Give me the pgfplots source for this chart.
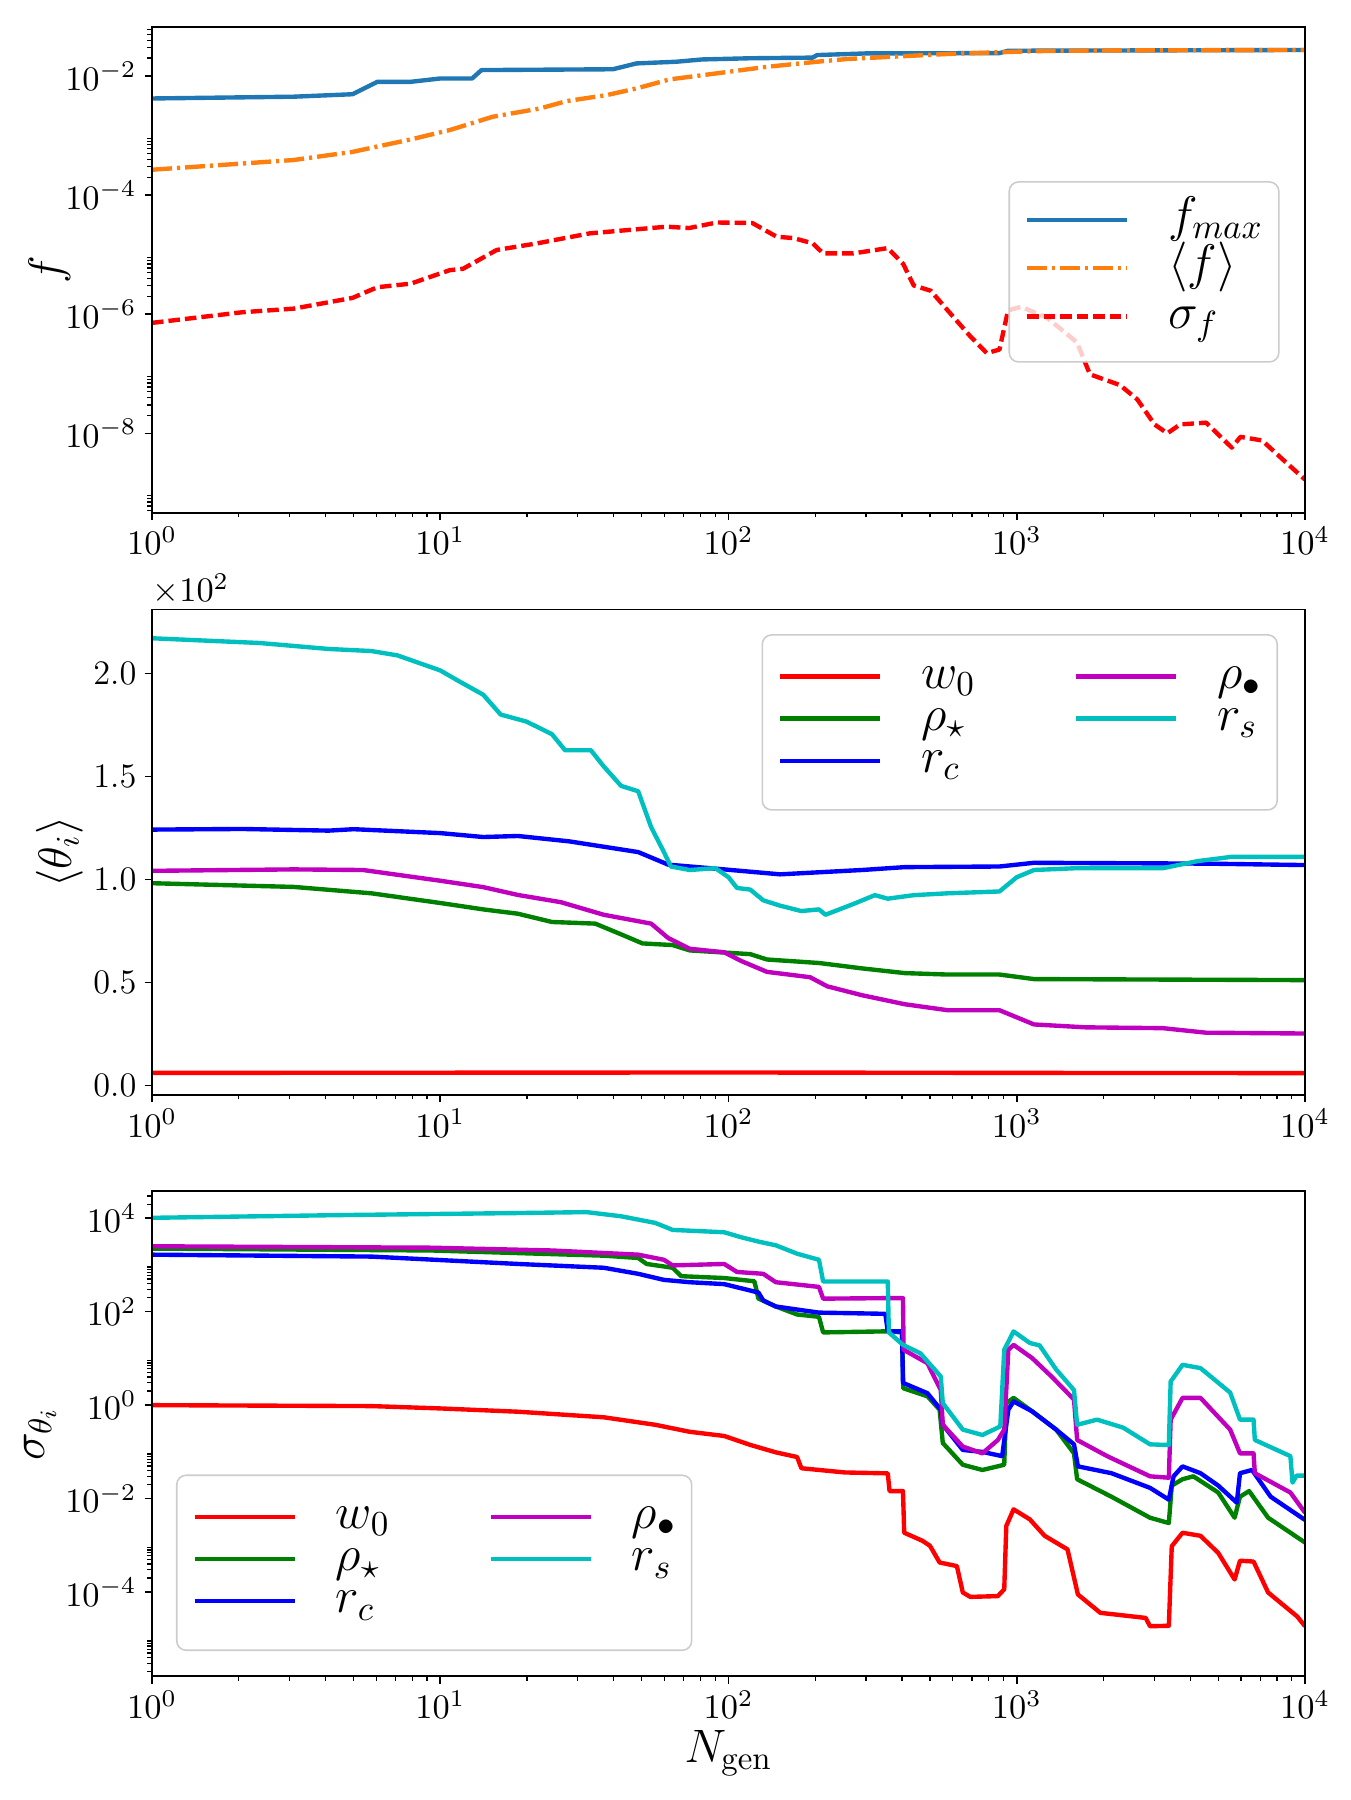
\RequirePackage{fix-cm}
\documentclass[border=0pt]{standalone}
\usepackage{pgfplots}
\pgfplotsset{compat=1.18}

\definecolor{mplblue}{HTML}{1F77B4}
\definecolor{mplorange}{HTML}{FF7F0E}
\definecolor{cR}{rgb}{1,0,0}
\definecolor{cG}{rgb}{0,0.5,0}
\definecolor{cB}{rgb}{0,0,1}
\definecolor{cM}{rgb}{0.75,0,0.75}
\definecolor{cC}{rgb}{0,0.75,0.75}

% settings shared by the three panels
\pgfplotsset{
  legend image code/.code={\draw[#1] (0pt,1.2pt) -- (32pt,1.2pt);},
  every axis plot/.append style={line width=1.4pt, line join=round},
  scale only axis, width=368.96pt, height=155.3pt,
  tick pos=left, tick align=outside,
  major tick length=2.4pt, minor tick length=1.5pt,
  major tick style={black, line width=0.5pt},
  minor tick style={black, line width=0.4pt},
  axis line style={line width=0.55pt},
  tick label style={font=\fontsize{11}{13}\selectfont},
  xticklabel style={inner ysep=0pt, yshift=-2pt},
  yticklabel style={inner xsep=0pt, xshift=-2.4pt},
  legend style={font=\fontsize{16}{19}\selectfont, draw=black!20,
    line width=0.5pt, rounded corners=3pt, fill=white,
    fill opacity=0.8, draw opacity=1, text opacity=1,
    inner xsep=5pt, inner ysep=7pt,
    nodes={inner xsep=0pt, inner ysep=0pt, text height=9.5pt, text depth=4.5pt},
    /tikz/every odd column/.append style={column sep=12.5pt}},
  legend cell align=left,
  axis on top,
}

\begin{document}
\begin{tikzpicture}
\path[use as bounding box] (0,0) rectangle (432pt,-576pt);

% ---------------- fitness ----------------
\begin{axis}[at={(48.64pt,-8.74pt)}, anchor=north west,
  xmode=log, xmin=1, xmax=1e4, xtick={1,10,100,1000,10000},
  ymode=log, ymin=4.65e-10, ymax=6.58e-2,
  ytick={1e-8,1e-6,1e-4,1e-2},
  minor ytick={5e-10,6e-10,7e-10,8e-10,9e-10,
    2e-8,3e-8,4e-8,5e-8,6e-8,7e-8,8e-8,9e-8,
    2e-6,3e-6,4e-6,5e-6,6e-6,7e-6,8e-6,9e-6,
    2e-4,3e-4,4e-4,5e-4,6e-4,7e-4,8e-4,9e-4,
    2e-2,3e-2,4e-2,5e-2,6e-2},
  ylabel={$f$},
  every axis y label/.style={at={(rel axis cs:-0.089,0.5)}, rotate=90, anchor=center,
    font=\fontsize{15}{18}\selectfont},
  legend style={at={(rel axis cs:0.978,0.683)}, anchor=north east, row sep=1.5pt,
    inner ysep=6.3pt},
]
\addplot[mplblue] coordinates {
(1,4.2e-3) (3.1,4.5e-3) (4.96,4.95e-3) (6.05,8.0e-3) (7.9,8.0e-3) (10,9.1e-3)
(12.9,9.1e-3) (13.9,1.26e-2) (39.7,1.3e-2) (48,1.63e-2) (66,1.74e-2) (81,1.9e-2)
(119,1.99e-2) (196,2.04e-2) (203,2.25e-2) (300,2.4e-2) (871,2.43e-2) (933,2.66e-2)
(10000,2.74e-2)};
\addlegendentry{$f_{max}$}
\addplot[mplorange, dash pattern=on 6.4pt off 1.6pt on 1pt off 1.6pt] coordinates {
(1,2.67e-4) (3.1,3.89e-4) (4.96,5.32e-4) (6.05,6.55e-4) (7.9,8.61e-4) (10.8,1.24e-3)
(15.2,2.07e-3) (22.2,2.86e-3) (27.5,3.8e-3) (37.9,4.8e-3) (48,6.2e-3) (62.6,8.8e-3)
(91,1.11e-2) (136,1.43e-2) (203,1.74e-2) (257,1.93e-2) (576,2.35e-2)
(1148,2.62e-2) (2280,2.7e-2) (10000,2.74e-2)};
\addlegendentry{$\langle f\rangle$}
\addplot[cR, dash pattern=on 3.7pt off 1.6pt] coordinates {
(1,7.16e-7) (2.06,1.08e-6) (3.1,1.24e-6) (4.96,1.88e-6) (6.05,2.84e-6) (7.9,3.26e-6)
(10.8,5.5e-6) (12,5.8e-6) (15.7,1.2e-5) (21.7,1.55e-5) (33,2.28e-5) (61,2.95e-5)
(73,2.8e-5) (91,3.47e-5) (121,3.4e-5) (147,2.0e-5) (168,1.9e-5) (196,1.55e-5)
(213,1.05e-5) (271,1.05e-5) (357,1.29e-5) (404,6.95e-6)
(439,3.04e-6) (503,2.48e-6) (576,1.16e-6) (685,4.43e-7) (787,2.22e-7) (871,2.55e-7)
(933,1.16e-6) (1035,1.33e-6) (1271,8.81e-7) (1618,3.36e-7) (1795,9.77e-8) (2280,6.46e-8)
(2618,3.72e-8) (3006,1.41e-8) (3329,1.0e-8) (3690,1.41e-8) (4537,1.51e-8) (5572,5.75e-9)
(5972,8.71e-9) (7096,7.59e-9) (8418,3.55e-9) (10000,1.67e-9)};
\addlegendentry{$\sigma_f$}
\end{axis}

% ---------------- mean parameters ----------------
\begin{axis}[at={(48.64pt,-195.0pt)}, anchor=north west,
  clip mode=individual,
  xmode=log, xmin=1, xmax=1e4, xtick={1,10,100,1000,10000},
  ymin=-4.37, ymax=231,
  ytick={0,50,100,150,200},
  yticklabels={0.0,0.5,1.0,1.5,2.0},
  ylabel={$\langle\theta_i\rangle$},
  every axis y label/.style={at={(rel axis cs:-0.080,0.5)}, rotate=90, anchor=center,
    font=\fontsize{15}{18}\selectfont},
  legend columns=2,
  legend style={at={(rel axis cs:0.9766,0.949)}, anchor=north east, row sep=-0.5pt,
    inner ysep=7.5pt,
    /tikz/every even column/.append style={column sep=31.5pt}},
]
\addplot[cR, forget plot] coordinates {(1,6.2) (100,6.4) (1000,6.2) (10000,6.1)};
\addplot[cG, forget plot] coordinates {
(1,98.2) (3.1,96.4) (5.77,93.3) (10,88.6) (14.1,85.5) (18.6,83.4) (24.4,79.4)
(34.5,78.6) (42.4,73.4) (50.3,69) (64,68.2) (73.4,65.6) (119,63.8) (136,61.2)
(206,59.5) (290,56.9) (409,54.6) (576,53.9) (871,53.9) (1148,51.7) (10000,51.2)};
\addplot[cB, forget plot] coordinates {
(1,124.2) (2.06,124.5) (4.1,123.7) (5,124.4) (10,122.5) (14.1,120.6) (18.6,121.1)
(28,118.5) (48.6,113.3) (61.8,107.2) (96.6,104.9) (151,102.5) (290,104.6) (409,106)
(871,106.3) (1148,108.1) (4537,107.7) (10000,107)};
\addplot[cM, forget plot] coordinates {
(1,104.2) (3.1,104.9) (5.4,104.6) (10,99.4) (14.1,96.3) (18.6,92.5) (26.2,89)
(36.9,82.9) (53.9,78.6) (61.8,71.6) (73.4,66.4) (96.6,64.7) (111,60.4) (136,55.2)
(192,52.6) (220,48.2) (290,43.9) (409,39.5) (576,36.6) (871,36.6) (1148,29.7)
(1733,28.3) (3214,27.9) (4537,25.7) (10000,25.3)};
\addplot[cC, forget plot] coordinates {
(1,217.0) (2.36,214.7) (4.1,211.8) (5.77,210.8) (7.1,208.7) (10,201.4) (11.5,196.5)
(14.1,189.6) (16.2,180) (19.9,176.6) (24.4,170.5) (27.1,162.7) (33.3,162.7)
(36.9,154.9) (42.4,145.4) (48.6,142.8) (53.9,125.4) (59.7,113.3) (63.1,106.3)
(73.4,104.6) (90,105.5) (100,101.1) (107,95.9) (119,95.1) (132,89.9) (151,87.3)
(179,84.7) (206,85.5) (217,82.9) (271,88.1) (322,92.4) (357,90.7) (439,92.4)
(576,93.3) (871,94.2) (1000,101.1) (1148,104.6) (1618,105.5) (3214,105.5)
(4236,108.9) (5572,111) (10000,111)};
\addlegendimage{cR}\addlegendentry{$w_0$}
\addlegendimage{cM}\addlegendentry{$\rho_\bullet$}
\addlegendimage{cG}\addlegendentry{$\rho_\star$}
\addlegendimage{cC}\addlegendentry{$r_s$}
\addlegendimage{cB}\addlegendentry{$r_c$}
\node[anchor=base west, inner sep=0pt, font=\fontsize{11}{13}\selectfont]
  at (rel axis cs:0,1) [yshift=2.4pt] {$\times10^{2}$};
\end{axis}

% ---------------- parameter spread ----------------
\begin{axis}[at={(48.64pt,-381.1pt)}, anchor=north west,
  xmode=log, xmin=1, xmax=1e4, xtick={1,10,100,1000,10000},
  ymode=log, ymin=1.58e-6, ymax=3.83e4,
  ytick={1e-4,1e-2,1,1e2,1e4},
  minor ytick={2e-6,3e-6,4e-6,5e-6,6e-6,7e-6,8e-6,9e-6,
    2e-4,3e-4,4e-4,5e-4,6e-4,7e-4,8e-4,9e-4,
    2e-2,3e-2,4e-2,5e-2,6e-2,7e-2,8e-2,9e-2,
    2,3,4,5,6,7,8,9,
    200,300,400,500,600,700,800,900,
    2e4,3e4},
  ylabel={$\sigma_{\theta_i}$},
  every axis y label/.style={at={(rel axis cs:-0.097,0.5)}, rotate=90, anchor=center,
    font=\fontsize{15}{18}\selectfont},
  xlabel={$N_{\mathrm{gen}}$},
  every axis x label/.style={at={(rel axis cs:0.5,0)}, anchor=north, inner sep=0pt,
    yshift=-17pt, font=\fontsize{15}{18}\selectfont},
  legend columns=2,
  legend style={at={(rel axis cs:0.0208,0.052)}, anchor=south west, row sep=-0.5pt,
    inner ysep=7.5pt,
    /tikz/every even column/.append style={column sep=31.5pt}},
]
\addplot[cR, forget plot] coordinates {
(1,1) (5.77,0.955) (10,0.851) (18.6,0.724) (36.9,0.55) (55.7,0.38) (73.4,0.269)
(96.6,0.219) (119,0.141) (146,0.0977) (173,0.0776) (179,0.0447) (253,0.0363)
(357,0.0347) (362,0.0145) (403,0.0145) (407,1.86e-3) (470,1.26e-3) (500,9.8e-4)
(540,4.3e-4) (620,3.6e-4) (650,9.8e-5) (690,7.9e-5) (860,8.2e-5) (905,1.15e-4)
(920,2.6e-3) (975,5.9e-3) (1110,3.6e-3) (1250,1.6e-3) (1500,8.2e-4) (1630,8.9e-5)
(1950,3.6e-5) (2800,2.8e-5) (2900,1.86e-5) (3370,1.9e-5) (3450,9.6e-4)
(3760,1.86e-3) (4340,1.6e-3) (5000,6.9e-4) (5700,1.86e-4) (5950,4.7e-4)
(6630,4.5e-4) (7450,9.8e-5) (9400,3.0e-5) (10000,1.86e-5)};
\addplot[cG, forget plot] coordinates {
(1,2.24e3) (9.3,2.04e3) (36.9,1.58e3) (48.6,1.41e3) (52,1.05e3) (64,871) (68.5,575)
(96.6,525) (123,447) (127,191) (146,129) (173,87.1) (206,77.6) (213,36) (357,38)
(400,36) (404,2.3) (490,1.55) (540,0.8) (554,0.155) (650,0.053) (760,0.041)
(905,0.053) (920,1.1) (975,1.43) (1130,0.74) (1370,0.30) (1580,0.093)
(1620,0.026) (2130,0.011) (2900,3.9e-3) (3370,3.0e-3) (3450,0.019) (3760,0.026)
(4100,0.030) (5000,0.0135) (5700,3.9e-3) (5950,0.011) (6400,0.0145) (7450,3.9e-3)
(10000,1.15e-3)};
\addplot[cB, forget plot] coordinates {
(1,1.66e3) (5.77,1.51e3) (18.6,1.05e3) (36.9,871) (48.6,646) (59.7,479) (73.4,427)
(96.6,389) (127,257) (132,174) (146,129) (206,95.5) (350,90) (357,38) (400,38)
(403,3.0) (490,1.8) (545,0.8) (554,0.38) (650,0.11) (760,0.1) (890,0.081)
(935,0.8) (975,1.2) (1130,0.74) (1370,0.30) (1580,0.145) (1630,0.049) (2130,0.035)
(2900,0.017) (3370,9.5e-3) (3500,0.030) (3760,0.049) (4340,0.035) (5000,0.019)
(5800,8.2e-3) (5950,0.035) (6550,0.041) (7600,0.011) (10000,3.5e-3)};
\addplot[cM, forget plot] coordinates {
(1,2.51e3) (9.3,2.34e3) (24.4,2.04e3) (48.6,1.66e3) (59.7,1.29e3) (64,977)
(96.6,1.05e3) (107,708) (132,646) (146,427) (206,339) (213,190) (357,195) (403,195)
(405,15.3) (490,7.9) (545,2.1) (554,0.38) (650,0.13) (760,0.093) (860,0.18)
(905,0.3) (935,15.3) (975,19.5) (1130,10.2) (1320,4.1) (1580,1.32) (1620,0.18)
(2060,0.081) (2900,0.030) (3370,0.028) (3420,0.49) (3760,1.43) (4340,1.43)
(5500,0.30) (5950,0.093) (6630,0.093) (6700,0.035) (8900,0.0135) (10000,5e-3)};
\addplot[cC, forget plot] coordinates {
(1,1.02e4) (4.7,1.17e4) (18.6,1.29e4) (32.2,1.35e4) (42.4,1.10e4) (55.7,7.94e3)
(64,5.62e3) (96.6,5.01e3) (111,3.89e3) (127,3.16e3) (146,2.63e3) (173,1.74e3)
(206,1.29e3) (213,442) (357,442) (360,36) (403,19.5) (463,12.9) (545,4.1)
(554,1.1) (650,0.30) (760,0.23) (877,0.35) (905,15.3) (975,37.8) (1110,21.4)
(1200,19) (1370,5.8) (1580,2.1) (1620,0.38) (1900,0.49) (2340,0.33) (2900,0.145)
(3370,0.14) (3420,3.2) (3760,7.3) (4340,6.2) (5500,1.86) (5950,0.49) (6630,0.49)
(6700,0.18) (8900,0.081) (9050,0.022) (9350,0.031) (10000,0.031)};
\addlegendimage{cR}\addlegendentry{$w_0$}
\addlegendimage{cM}\addlegendentry{$\rho_\bullet$}
\addlegendimage{cG}\addlegendentry{$\rho_\star$}
\addlegendimage{cC}\addlegendentry{$r_s$}
\addlegendimage{cB}\addlegendentry{$r_c$}
\end{axis}
\end{tikzpicture}
\end{document}
